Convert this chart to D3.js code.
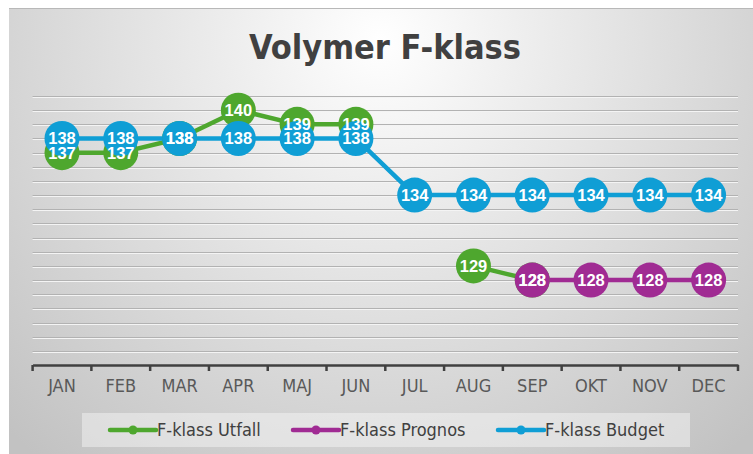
<!DOCTYPE html>
<html><head><meta charset="utf-8">
<script src="https://cdn.jsdelivr.net/npm/d3@7"></script>
<style>html,body{margin:0;padding:0;background:#fff;}svg{display:block;}</style>
</head><body>
<script>
const months = ["JAN","FEB","MAR","APR","MAJ","JUN","JUL","AUG","SEP","OKT","NOV","DEC"];
const utfall  = [137,137,138,140,139,139,null,129,128,null,null,null];
const prognos = [null,null,null,null,null,null,null,null,128,128,128,128];
const budget  = [138,138,138,138,138,138,134,134,134,134,134,134];
const seriesNames = ["F-klass Utfall","F-klass Prognos","F-klass Budget"];
const seriesColors = ["#4EA72E","#A02B93","#0F9ED5"];
const yMin = 122, yMax = 141;
const title = "Volymer F-klass";

const W = 753, H = 454;
const narrow = "'Liberation Sans Narrow','DejaVu Sans Condensed',Roboto,sans-serif";
const svg = d3.select("body").append("svg").attr("width", W).attr("height", H);
const defs = svg.append("defs");
const rg = defs.append("radialGradient").attr("id","bg").attr("gradientUnits","userSpaceOnUse")
  .attr("cx",380).attr("cy",40).attr("r",540);
rg.append("stop").attr("offset",0).attr("stop-color","#ffffff");
rg.append("stop").attr("offset",0.3).attr("stop-color","#ececec");
rg.append("stop").attr("offset",1).attr("stop-color","#c2c2c2");

svg.append("rect").attr("x",9).attr("y",8).attr("width",W-9).attr("height",H-8).attr("fill","url(#bg)");
svg.append("line").attr("x1",9).attr("x2",W).attr("y1",8.5).attr("y2",8.5).attr("stroke","#b8b8b8").attr("stroke-width",1);

const x = d3.scaleBand().domain(months).range([32.6, 738]);
const y = d3.scaleLinear().domain([yMin, yMax]).range([365, 96]);

// gridlines (embossed look: dark line with light line below)
const grid = svg.append("g");
const gv = d3.range(yMin+1, yMax+1);
grid.selectAll("line.hl").data(gv).join("line").attr("class","hl")
  .attr("x1", x.range()[0]).attr("x2", x.range()[1])
  .attr("y1", d => Math.round(y(d))+1.5).attr("y2", d => Math.round(y(d))+1.5)
  .attr("stroke", "#f4f4f4").attr("stroke-width", 1);
grid.selectAll("line.gl").data(gv).join("line").attr("class","gl")
  .attr("x1", x.range()[0]).attr("x2", x.range()[1])
  .attr("y1", d => Math.round(y(d))+0.5).attr("y2", d => Math.round(y(d))+0.5)
  .attr("stroke", "#b2b2b2").attr("stroke-width", 1);

// x axis
const axis = svg.append("g").attr("transform", `translate(0,${y(yMin)})`)
  .call(d3.axisBottom(x).tickSize(0).tickPadding(14));
axis.select(".domain").attr("stroke","#404040").attr("stroke-width",2.5);
axis.selectAll("text").attr("fill","#595959").style("font-family",narrow).style("font-size","18px").attr("dy","0.71em");
const tickPos = months.map(m => x(m)).concat([x.range()[1]]);
axis.selectAll(".tk").data(tickPos).join("line").attr("class","tk")
  .attr("x1", d=>d).attr("x2", d=>d).attr("y1",0).attr("y2",6)
  .attr("stroke","#404040").attr("stroke-width",2.5);

const cx = m => x(m) + x.bandwidth()/2;
const allSeries = [utfall, prognos, budget];
const lineGen = d3.line().defined(d => d.v != null).x(d => cx(d.m)).y(d => y(d.v));

const markersG = svg.append("g");
allSeries.forEach((s, i) => {
  const data = months.map((m, j) => ({m, v: s[j]}));
  markersG.append("path").datum(data).attr("d", lineGen).attr("fill","none")
    .attr("stroke", seriesColors[i]).attr("stroke-width", 4.5).attr("stroke-linejoin","round");
});
allSeries.forEach((s, i) => {
  const data = months.map((m, j) => ({m, v: s[j]})).filter(d => d.v != null);
  markersG.selectAll(null).data(data).join("circle")
    .attr("cx", d => cx(d.m)).attr("cy", d => y(d.v)).attr("r", 17.5).attr("fill", seriesColors[i]);
});
allSeries.forEach((s, i) => {
  const data = months.map((m, j) => ({m, v: s[j]})).filter(d => d.v != null);
  markersG.selectAll(null).data(data).join("text")
    .attr("x", d => cx(d.m)).attr("y", d => y(d.v)).attr("dy","0.36em").attr("text-anchor","middle")
    .attr("fill","#fff").style("font-family","'Liberation Sans',Arial,sans-serif").style("font-weight","bold").style("font-size","16.5px")
    .text(d => d.v);
});

// title
svg.append("text").attr("x", 385).attr("y", 59).attr("text-anchor","middle")
  .attr("fill","#404040").style("font-family",narrow).style("font-weight","bold").style("font-size","34px")
  .text(title);

// legend
const lg = svg.append("g");
lg.append("rect").attr("x",82).attr("y",413).attr("width",608).attr("height",34).attr("fill","#ffffff").attr("fill-opacity",0.4);
const legX = [110, 293, 498];
seriesNames.forEach((n, i) => {
  const g = lg.append("g").attr("transform", `translate(${legX[i]},430)`);
  g.append("line").attr("x1",0).attr("x2",46).attr("y1",0).attr("y2",0).attr("stroke",seriesColors[i]).attr("stroke-width",4.5).attr("stroke-linecap","round");
  g.append("circle").attr("cx",23).attr("cy",0).attr("r",4.5).attr("fill",seriesColors[i]);
  g.append("text").attr("x",47).attr("y",0).attr("dy","0.35em").attr("fill","#404040")
    .style("font-family",narrow).style("font-size","18px").text(n);
});
</script>
</body></html>
